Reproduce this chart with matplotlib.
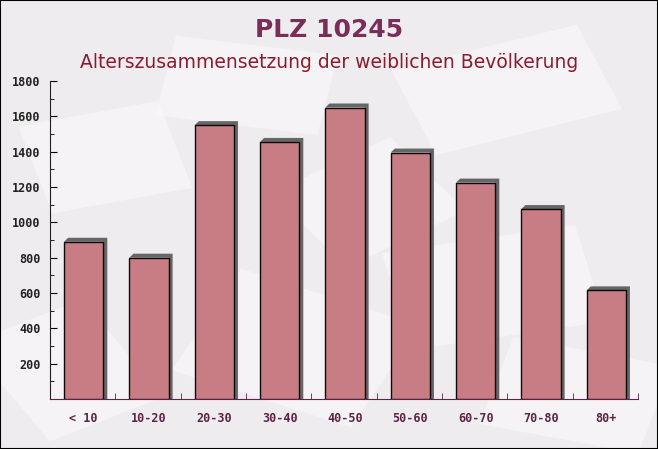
import numpy as np
import matplotlib.pyplot as plt
from matplotlib.patches import Rectangle, Polygon
import matplotlib.transforms as mtransforms

# data
age_groups = ["< 10", "10-20", "20-30", "30-40", "40-50", "50-60", "60-70", "70-80", "80+"]
women = [890, 800, 1550, 1455, 1650, 1395, 1225, 1075, 615]
y_ticks = [200, 400, 600, 800, 1000, 1200, 1400, 1600, 1800]

bg = "#efecef"
fig = plt.figure(figsize=(6.58, 4.49), dpi=100, facecolor=bg)

# faint envelope-like shapes in the background (own axes, kept behind the chart)
bg_ax = fig.add_axes([0, 0, 1, 1], zorder=0)
bg_ax.set_xlim(0, 1)
bg_ax.set_ylim(0, 1)
bg_ax.axis("off")
shapes = [(0.05, 0.55, 0.22, 0.2, 15), (0.25, 0.72, 0.25, 0.18, -10), (0.62, 0.7, 0.3, 0.2, 20),
          (0.3, 0.1, 0.3, 0.25, -25), (0.6, 0.25, 0.3, 0.22, 12), (0.0, 0.05, 0.2, 0.25, 30),
          (0.75, 0.02, 0.25, 0.2, -15), (0.45, 0.45, 0.22, 0.2, 35)]
for sx, sy, sw, sh, ang in shapes:
    r = Rectangle((sx, sy), sw, sh, facecolor="white", alpha=0.4, edgecolor="none")
    r.set_transform(mtransforms.Affine2D().rotate_deg_around(sx + sw / 2, sy + sh / 2, ang) + bg_ax.transAxes)
    bg_ax.add_patch(r)
bg_ax.add_patch(Rectangle((0, 0), 1, 1, transform=bg_ax.transAxes, fill=False,
                          edgecolor="black", lw=1.5))

ax = fig.add_axes([50 / 658, 50 / 449, 588 / 658, 318 / 449], zorder=2)
ax.set_facecolor("none")

x = np.arange(len(age_groups))
bar_left = x + 14 / 65
bar_w = 39 / 65
dx = 4 / 65
dy = 4 / 318 * 1800

# 3d-ish shadow on the top and right of each bar
for l, h in zip(bar_left, women):
    r = l + bar_w
    ax.add_patch(Polygon([(l, h), (l + dx, h + dy), (r + dx, h + dy), (r + dx, 0), (r, 0), (r, h)],
                         closed=True, facecolor="#666666", edgecolor="none", zorder=2))
ax.bar(bar_left, women, width=bar_w, align="edge", color="#c6767e", alpha=0.95,
       edgecolor="black", linewidth=1.0, zorder=3)

ax.set_xlim(0, len(age_groups))
ax.set_ylim(0, 1800)
ax.set_xticks(x + 14 / 65 + bar_w / 2)
ax.set_xticklabels(age_groups, family="DejaVu Sans Mono", fontweight="bold", fontsize=8.5, color="#5a2445")
ax.set_xticks(np.arange(1, len(age_groups) + 1), minor=True)
ax.tick_params(axis="x", which="major", length=0, pad=9)
ax.tick_params(axis="x", which="minor", direction="in", length=4, color="#5a2445")

ax.set_yticks(y_ticks)
ax.set_yticklabels([str(v) for v in y_ticks], family="DejaVu Sans Mono", fontweight="bold",
                   fontsize=8.5, color="#222222")
ax.set_yticks(np.arange(100, 1800, 100), minor=True)
ax.tick_params(axis="y", which="major", direction="in", length=5, pad=7)
ax.tick_params(axis="y", which="minor", direction="in", length=3)

for s in ["top", "right"]:
    ax.spines[s].set_visible(False)
ax.spines["left"].set_color("#222222")
ax.spines["bottom"].set_color("#5a2445")

fig.text(0.5, 1 - 30 / 449, "PLZ 10245", ha="center", va="center", fontsize=18,
         fontweight="bold", color="#7a2d58", zorder=3)
fig.text(0.5, 1 - 62 / 449, "Alterszusammensetzung der weiblichen Bevölkerung", ha="center",
         va="center", fontsize=13.5, color="#8b1b2e", zorder=3)

fig.savefig("out.png", dpi=100, facecolor=bg)
